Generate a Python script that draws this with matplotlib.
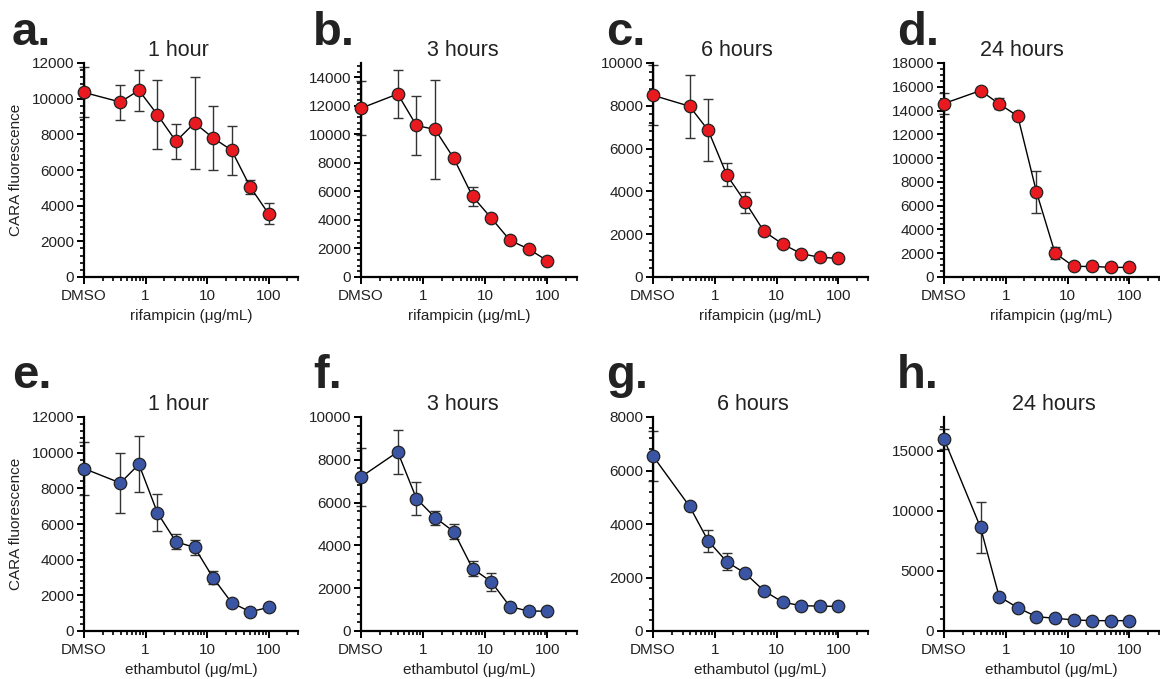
import matplotlib
matplotlib.use("Agg")
import matplotlib.pyplot as plt
from matplotlib.ticker import AutoMinorLocator, FixedLocator, LogLocator, NullFormatter

plt.rcParams["font.family"] = ["Liberation Sans", "DejaVu Sans"]

# concentrations (ug/mL); DMSO control is drawn at 0.1 on the log axis
conc = [0.1, 0.39, 0.78, 1.56, 3.125, 6.25, 12.5, 25, 50, 100]
xtick_pos = [0.1, 1, 10, 100]
xtick_labels = ["DMSO", "1", "10", "100"]

# rifampicin (top row)
rif_1h = [10350, 9810, 10470, 9100, 7610, 8640, 7800, 7110, 5060, 3540]
rif_1h_err = [1400, 980, 1160, 1920, 990, 2590, 1810, 1370, 390, 590]
rif_3h = [11830, 12830, 10620, 10340, 8310, 5650, 4130, 2570, 1960, 1140]
rif_3h_err = [1900, 1680, 2050, 3440, 0, 690, 0, 0, 0, 0]
rif_6h = [8490, 7980, 6860, 4770, 3490, 2130, 1540, 1090, 920, 870]
rif_6h_err = [1400, 1480, 1450, 540, 480, 0, 0, 0, 0, 0]
rif_24h = [14590, 15680, 14560, 13530, 7160, 2010, 890, 890, 810, 810]
rif_24h_err = [880, 0, 470, 0, 1750, 500, 0, 0, 0, 0]

# ethambutol (bottom row)
emb_1h = [9110, 8300, 9350, 6630, 5000, 4690, 2990, 1590, 1080, 1320]
emb_1h_err = [1490, 1660, 1560, 1040, 420, 420, 370, 0, 0, 0]
emb_3h = [7200, 8370, 6190, 5300, 4640, 2920, 2300, 1140, 930, 930]
emb_3h_err = [1360, 1040, 780, 330, 340, 370, 430, 0, 0, 0]
emb_6h = [6540, 4660, 3370, 2590, 2150, 1500, 1080, 945, 930, 920]
emb_6h_err = [950, 0, 400, 310, 0, 0, 0, 0, 0, 0]
emb_24h = [15970, 8610, 2860, 1940, 1190, 1060, 920, 860, 860, 860]
emb_24h_err = [830, 2150, 0, 0, 0, 0, 0, 0, 0, 0]

RED = "#e8191f"
BLUE = "#3a55a4"
TXT = "#222222"

panels = [
    # letter, title, y, err, color, ymax, ystep, nminor, xlabel, title_x
    ("a.", "1 hour", rif_1h, rif_1h_err, RED, 12000, 2000, 5, "rifampicin", 0.44),
    ("b.", "3 hours", rif_3h, rif_3h_err, RED, 15000, 2000, 5, "rifampicin", 0.47),
    ("c.", "6 hours", rif_6h, rif_6h_err, RED, 10000, 2000, 5, "rifampicin", 0.39),
    ("d.", "24 hours", rif_24h, rif_24h_err, RED, 18000, 2000, 4, "rifampicin", 0.36),
    ("e.", "1 hour", emb_1h, emb_1h_err, BLUE, 12000, 2000, 5, "ethambutol", 0.44),
    ("f.", "3 hours", emb_3h, emb_3h_err, BLUE, 10000, 2000, 5, "ethambutol", 0.47),
    ("g.", "6 hours", emb_6h, emb_6h_err, BLUE, 8000, 2000, 5, "ethambutol", 0.465),
    ("h.", "24 hours", emb_24h, emb_24h_err, BLUE, 17800, 5000, 5, "ethambutol", 0.51),
]

W, H = 1160, 679
lefts = [84, 361, 653, 944]
widths = [214, 216, 215, 215]
tops = [63, 417]
height = 214
letter_x = [12, 313, 606, 897]
letter_y = [45, 388]

fig = plt.figure(figsize=(W / 100, H / 100), dpi=100)

for i, (letter, title, y, err, color, ymax, ystep, nminor, drug, tx) in enumerate(panels):
    row, col = divmod(i, 4)
    top = tops[row]
    ax = fig.add_axes([lefts[col] / W, (H - top - height) / H, widths[col] / W, height / H])

    ax.errorbar(conc, y, yerr=err, fmt="none", ecolor="#333333", elinewidth=1,
                capsize=3.5, capthick=1, clip_on=False, zorder=2)
    ax.plot(conc, y, "-", color="black", lw=1, marker="o", ms=9,
            mfc=color, mec="#222222", mew=0.9, clip_on=False, zorder=3)

    ax.set_xscale("log")
    ax.set_xlim(0.1, 300)
    ax.set_ylim(0, ymax)
    ax.xaxis.set_major_locator(FixedLocator(xtick_pos))
    ax.set_xticklabels(xtick_labels)
    ax.xaxis.set_minor_locator(LogLocator(base=10, subs=range(2, 10), numticks=20))
    ax.xaxis.set_minor_formatter(NullFormatter())
    ax.set_yticks(range(0, int(ymax) + 1, ystep))
    ax.yaxis.set_minor_locator(AutoMinorLocator(nminor))

    for s in ("top", "right"):
        ax.spines[s].set_visible(False)
    for s in ("left", "bottom"):
        ax.spines[s].set_linewidth(1.6)
        ax.spines[s].set_color("black")
    ax.tick_params(which="major", direction="out", length=5, width=1.4,
                   labelsize=11, labelcolor=TXT, pad=2)
    ax.tick_params(axis="x", which="major", pad=4)
    ax.tick_params(which="minor", direction="out", length=2.8, width=1.2)

    ax.set_xlabel(f"{drug} (\u03bcg/mL)", fontsize=11, color=TXT, labelpad=4)
    if col == 0:
        ax.set_ylabel("CARA fluorescence", fontsize=11, color=TXT, labelpad=6)

    ax.text(tx, 1.01, title, transform=ax.transAxes, ha="center", va="bottom",
            fontsize=15.5, color=TXT)
    fig.text(letter_x[col] / W, 1 - letter_y[row] / H, letter, fontsize=34,
             fontweight="bold", color=TXT, ha="left", va="baseline")

fig.savefig("out.png", dpi=100)
